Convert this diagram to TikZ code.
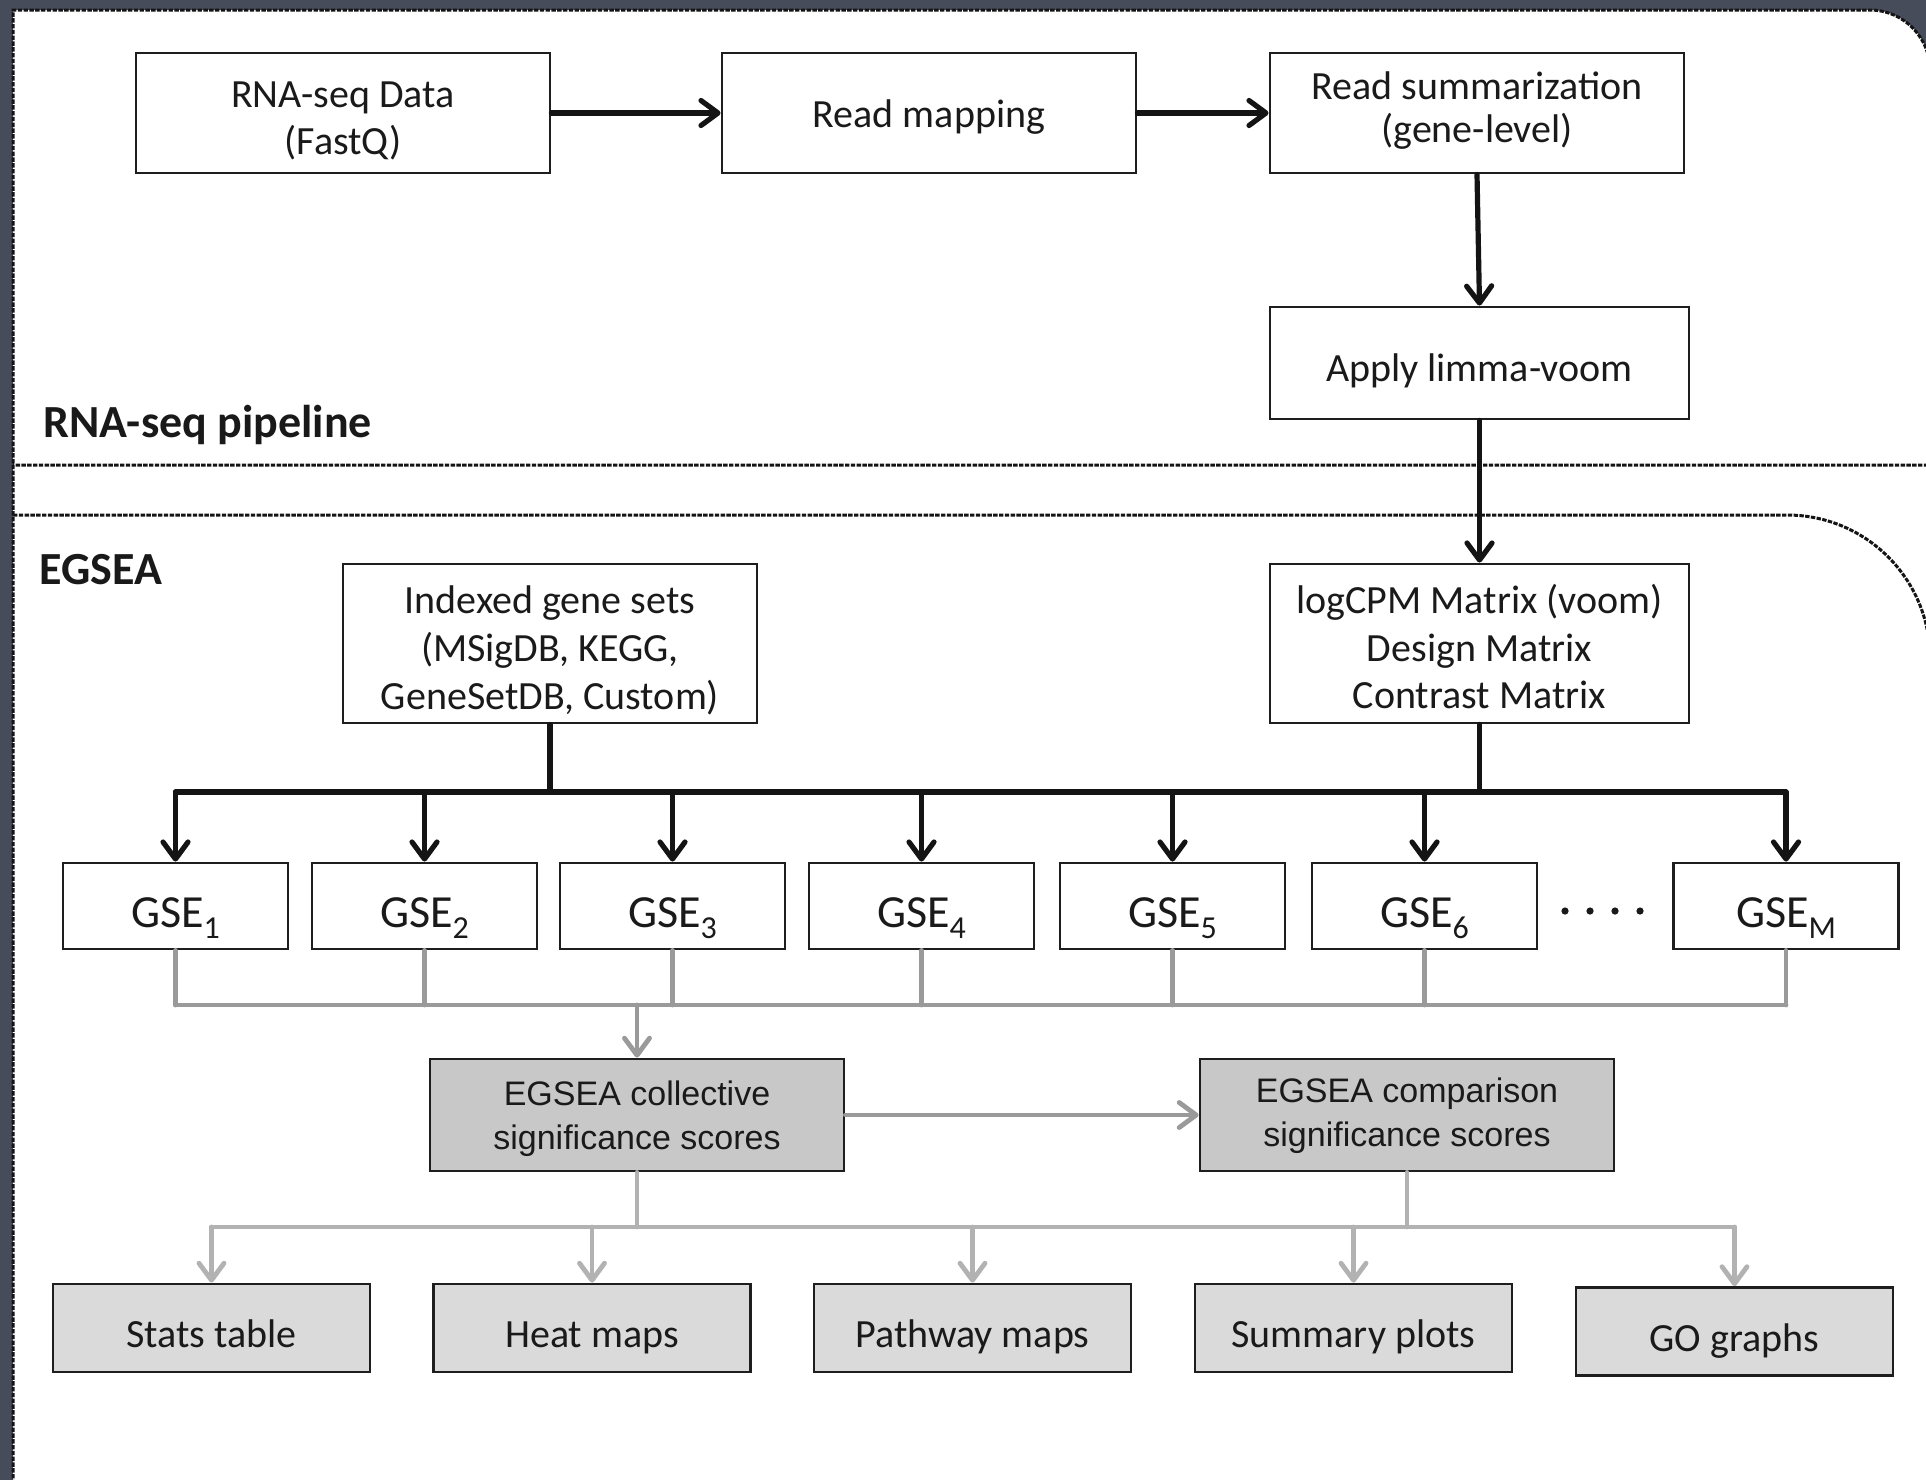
\documentclass[tikz,border=0pt]{standalone}
\usepackage{fontspec}
\setmainfont{Carlito}
\newfontfamily\arialf{Liberation Sans}
\usetikzlibrary{arrows.meta}
\definecolor{bgdark}{HTML}{474C5A}
\definecolor{boxline}{HTML}{1E1E1E}
\definecolor{txt}{HTML}{1A1A1A}
\definecolor{gline}{HTML}{9A9A9A}
\definecolor{gline2}{HTML}{B2B2B2}
\definecolor{gfill}{HTML}{C8C8C8}
\definecolor{lfill}{HTML}{DADADA}
\newcommand\gsub[1]{\raisebox{-5.5pt}{\fontsize{16}{16}\selectfont #1}}
\newcommand\lines[1]{\begin{tabular}[b]{@{}c@{}}#1\end{tabular}}
\tikzset{
  box/.style={draw=boxline, line width=1.4pt, fill=white, inner sep=0pt,
    minimum width=207pt, minimum height=60pt, text=txt, text depth=0pt,
    font=\fontsize{20}{22}\selectfont},
  gsebox/.style={box, minimum width=112.5pt, minimum height=43pt,
    font=\fontsize{23}{24}\selectfont, text height=21.8pt},
  scorebox/.style={box, fill=gfill, minimum height=56pt},
  outbox/.style={box, fill=lfill, minimum width=158.5pt, minimum height=44pt, text height=19.6pt},
  blkline/.style={line width=2.6pt, draw=black!92, line cap=round, line join=round},
  blkarrow/.style={blkline, -{Straight Barb[length=8.5pt,width=12.5pt,round]}},
  gryline/.style={line width=2.4pt, draw=gline, line cap=round, line join=round},
  gryarrow/.style={gryline, -{Straight Barb[length=8.5pt,width=12.5pt,round]}},
  gryline2/.style={gryline, draw=gline2},
  gryarrow2/.style={gryarrow, draw=gline2},
  panel/.style={draw=black!92, line width=1.5pt, dash pattern=on 2.2pt off 0.7pt},
  paneltitle/.style={font=\bfseries\fontsize{23}{25}\selectfont, text=black!90, inner sep=0pt, anchor=base west}
}
\begin{document}
\begin{tikzpicture}[x=0.5pt,y=-0.5pt]
\useasboundingbox (0,0) rectangle (1926,1479);
\clip (0,0) rectangle (1926,1479);
% background frame
\fill[bgdark] (-5,-5) rectangle (1935,1490);
\fill[white] (13,10) -- (1870,10) .. controls (1903,10) and (1930,37) .. (1930,70)
  -- (1930,1490) -- (13,1490) -- cycle;
% panels
\draw[panel] (13,1490) -- (13,10) -- (1870,10) .. controls (1903,10) and (1930,37) .. (1930,70)
  -- (1930,465) -- (13,465);
\draw[panel] (13,515) -- (1787,515) .. controls (1866,515) and (1930,579) .. (1930,658) -- (1930,1490);
\node[paneltitle] (t1) at (43,437) {RNA-seq pipeline};
\node[paneltitle] (t2) at (39,584) {EGSEA};

% pipeline
\node[box, font=\fontsize{20}{23.3}\selectfont, text height=41.5pt] (fastq) at (343,113) {\lines{RNA-seq Data\\(FastQ)}};
\node[box, text height=14.6pt] (readmap) at (929,113) {Read mapping};
\node[box, font=\fontsize{20}{21.5}\selectfont, text height=29.9pt] (readsum) at (1477,113) {\lines{Read summarization\\(gene-level)}};
\node[box, minimum width=209.5pt, minimum height=56pt, text height=18.9pt] (limma) at (1479.5,363) {Apply limma-voom};
\node[box, minimum height=79.5pt, font=\fontsize{20}{24}\selectfont, text height=66.2pt] (indexed) at (550,643.5) {\lines{Indexed gene sets\\(MSigDB, KEGG,\\GeneSetDB, Custom)}};
\node[box, minimum width=209.5pt, minimum height=79.5pt, font=\fontsize{20}{23.6}\selectfont, text height=64.8pt] (logcpm) at (1479.5,643.5) {\lines{logCPM Matrix (voom)\\Design Matrix\\Contrast Matrix}};

\draw[blkarrow] (fastq.east) -- (readmap.west);
\draw[blkarrow] (readmap.east) -- (readsum.west);
\draw[blkarrow] (readsum.south) -- (limma.north);
\draw[blkarrow] (limma.south) -- (logcpm.north);

% GSE boxes
\node[gsebox] (g1) at (175.5,906) {GSE\gsub{1}};
\node[gsebox] (g2) at (424.5,906) {GSE\gsub{2}};
\node[gsebox] (g3) at (672.5,906) {GSE\gsub{3}};
\node[gsebox] (g4) at (921.5,906) {GSE\gsub{4}};
\node[gsebox] (g5) at (1172.5,906) {GSE\gsub{5}};
\node[gsebox] (g6) at (1424.5,906) {GSE\gsub{6}};
\node[gsebox] (gM) at (1786,906) {GSE\gsub{M}};
\foreach \dx in {1565,1590,1615,1640} \fill[black!90] (\dx,911) circle (1.8pt);

\coordinate (bus) at (0,792);
\draw[blkline] (indexed.south) -- (indexed.south |- bus);
\draw[blkline] (logcpm.south) -- (logcpm.south |- bus);
\draw[blkline] (g1.north |- bus) -- (gM.north |- bus);
\foreach \g in {g1,g2,g3,g4,g5,g6,gM} \draw[blkarrow] (\g.north |- bus) -- (\g.north);

% scores
\node[scorebox, font=\arialf\fontsize{17}{22}\selectfont, text height=34.2pt] (coll) at (637,1115) {\lines{EGSEA collective\\significance scores}};
\node[scorebox, font=\arialf\fontsize{17}{22}\selectfont, text height=31.8pt] (comp) at (1407,1115) {\lines{EGSEA comparison\\significance scores}};

\coordinate (gbus) at (0,1005);
\foreach \g in {g1,g2,g3,g4,g5,g6,gM} \draw[gryline] (\g.south) -- (\g.south |- gbus);
\draw[gryline] (g1.south |- gbus) -- (gM.south |- gbus);
\draw[gryarrow] (coll.north |- gbus) -- (coll.north);
\draw[gryarrow] (coll.east) -- (comp.west);

% outputs
\node[outbox] (stats) at (211.5,1328) {Stats table};
\node[outbox] (heat) at (592,1328) {Heat maps};
\node[outbox] (path) at (972.5,1328) {Pathway maps};
\node[outbox] (summ) at (1353.5,1328) {Summary plots};
\node[outbox] (go) at (1734.5,1331.5) {GO graphs};

\coordinate (bbus) at (0,1227);
\draw[gryline2] (coll.south) -- (coll.south |- bbus);
\draw[gryline2] (comp.south) -- (comp.south |- bbus);
\draw[gryline2] (stats.north |- bbus) -- (go.north |- bbus);
\foreach \o in {stats,heat,path,summ,go} \draw[gryarrow2] (\o.north |- bbus) -- (\o.north);
\end{tikzpicture}
\end{document}
